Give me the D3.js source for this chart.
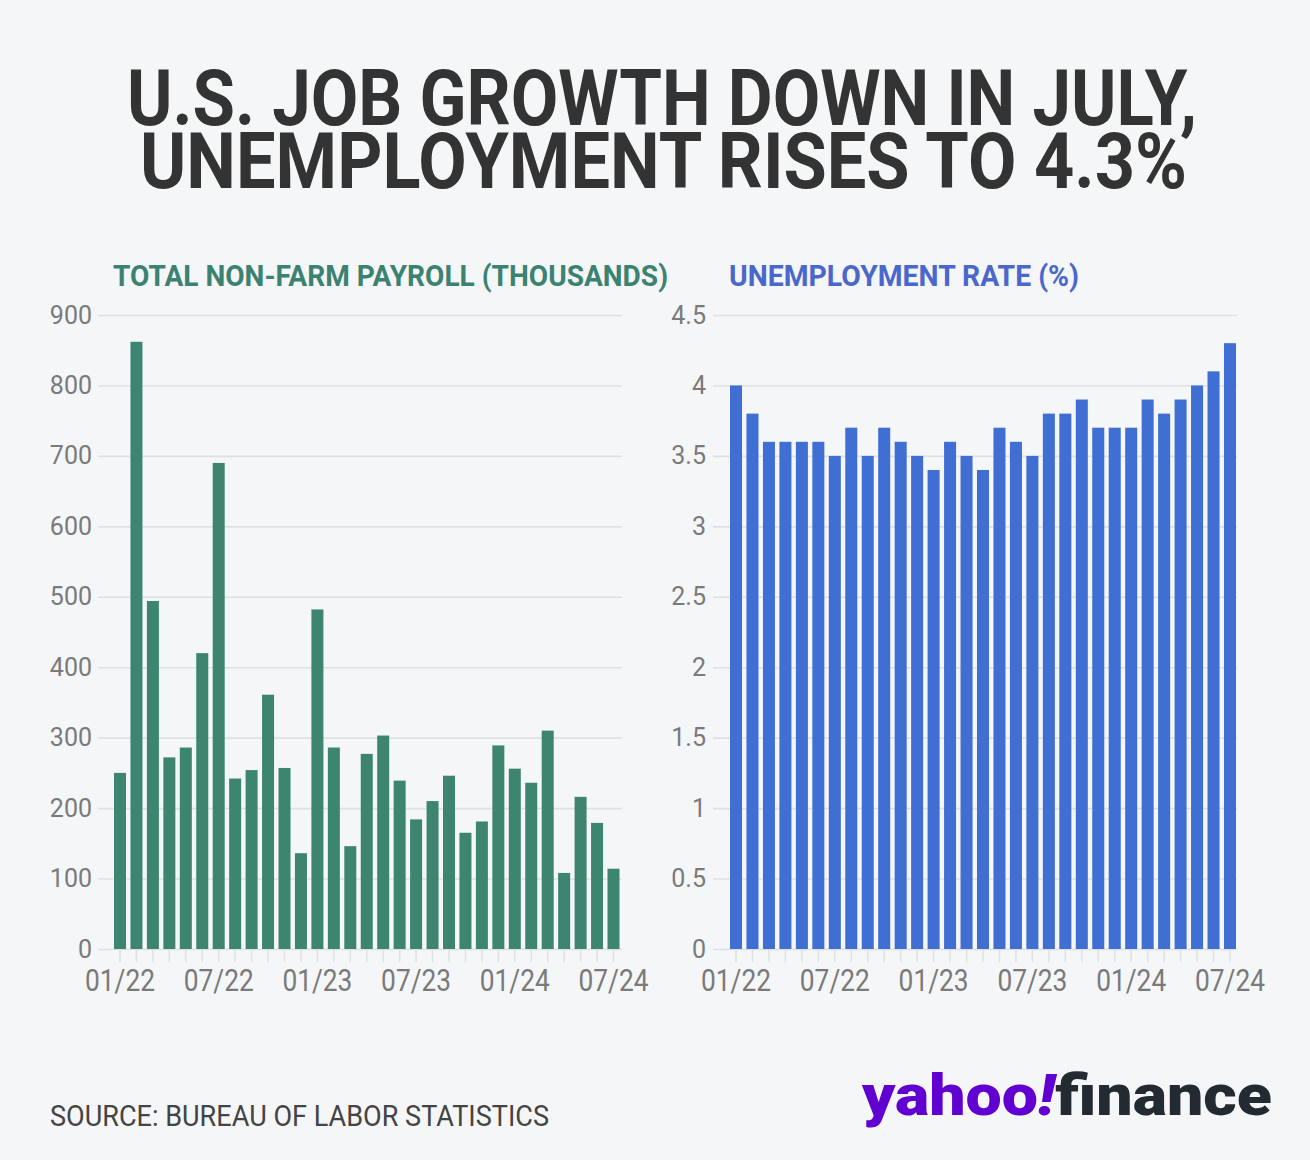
<!DOCTYPE html>
<html>
<head>
<meta charset="utf-8">
<script src="https://cdn.jsdelivr.net/npm/d3@7"></script>
<style>
  html, body { margin: 0; padding: 0; background: #f5f6f8; }
  svg { display: block; }
  text { font-family: Roboto, "Noto Sans", sans-serif; }
</style>
</head>
<body>
<svg id="chart" width="1310" height="1160"></svg>
<script>
// ---------- DATA ----------
const months = ["01/22","02/22","03/22","04/22","05/22","06/22","07/22","08/22","09/22","10/22","11/22","12/22",
                "01/23","02/23","03/23","04/23","05/23","06/23","07/23","08/23","09/23","10/23","11/23","12/23",
                "01/24","02/24","03/24","04/24","05/24","06/24","07/24"];
const payrolls = [250, 862, 494, 272, 286, 420, 690, 242, 254, 361, 257, 136,
                  482, 286, 146, 277, 303, 239, 184, 210, 246, 165, 181, 289,
                  256, 236, 310, 108, 216, 179, 114];
const unemployment = [4.0, 3.8, 3.6, 3.6, 3.6, 3.6, 3.5, 3.7, 3.5, 3.7, 3.6, 3.5,
                      3.4, 3.6, 3.5, 3.4, 3.7, 3.6, 3.5, 3.8, 3.8, 3.9, 3.7, 3.7,
                      3.7, 3.9, 3.8, 3.9, 4.0, 4.1, 4.3];
const payrollTicks = [0, 100, 200, 300, 400, 500, 600, 700, 800, 900];
const rateTicks = [0, 0.5, 1, 1.5, 2, 2.5, 3, 3.5, 4, 4.5];
const xLabels = ["01/22", "07/22", "01/23", "07/23", "01/24", "07/24"];

const titleLines = ["U.S. JOB GROWTH DOWN IN JULY,", "UNEMPLOYMENT RISES TO 4.3%"];
const leftTitle = "TOTAL NON-FARM PAYROLL (THOUSANDS)";
const rightTitle = "UNEMPLOYMENT RATE (%)";
const sourceText = "SOURCE: BUREAU OF LABOR STATISTICS";

// ---------- DRAW ----------
const svg = d3.select("#chart");
svg.append("rect").attr("width", 1310).attr("height", 1160).attr("fill", "#f5f6f8");

// Title: smaller font stretched vertically so the tight leading of the reference fits
const titleSpecs = [
  {x: 127, y: 125, w: 1070},
  {x: 140, y: 188, w: 1047}
];
titleLines.forEach((t, i) => {
  svg.append("g")
    .attr("transform", `translate(${titleSpecs[i].x},${titleSpecs[i].y}) scale(1,1.4)`)
    .append("text")
    .attr("x", 0).attr("y", 0)
    .attr("font-size", 55).attr("font-weight", 700)
    .attr("fill", "#333333")
    .attr("textLength", titleSpecs[i].w).attr("lengthAdjust", "spacingAndGlyphs")
    .text(t);
});

function panel(opts) {
  const g = svg.append("g");
  const x = d3.scaleBand().domain(months).range([opts.barLeft, opts.barRight])
    .paddingInner(0.27).paddingOuter(0);
  const y = d3.scaleLinear().domain(opts.domain).range([949, 315]);

  // subtitle
  g.append("text")
    .attr("x", opts.titleX).attr("y", 286)
    .attr("font-size", 30).attr("font-weight", 700)
    .attr("fill", opts.titleColor)
    .attr("textLength", opts.titleW).attr("lengthAdjust", "spacingAndGlyphs")
    .text(opts.title);

  // y axis + grid
  const yAxis = d3.axisLeft(y).tickValues(opts.ticks)
    .tickFormat(d => String(d))
    .tickSize(-(opts.gridRight - opts.gridLeft)).tickPadding(opts.pad);
  const ya = g.append("g").attr("transform", `translate(${opts.gridLeft},0)`).call(yAxis);
  ya.select(".domain").remove();
  ya.selectAll(".tick line").attr("stroke", "#dfe0e3").attr("stroke-width", 1.6);
  ya.selectAll(".tick text").attr("font-size", 25).attr("fill", "#7a7a7a")
    .attr("font-family", "Roboto, sans-serif");

  // x axis
  const xAxis = d3.axisBottom(x).tickSize(13).tickPadding(7)
    .tickFormat(d => xLabels.includes(d) ? d : "");
  const xa = g.append("g").attr("transform", "translate(0,949)").call(xAxis);
  xa.select(".domain").remove();
  xa.selectAll(".tick line").attr("stroke", "#e0e1e4").attr("stroke-width", 1.5);
  xa.selectAll(".tick text").attr("font-size", 31).attr("fill", "#7a7a7a")
    .attr("font-family", "Roboto, sans-serif")
    .each(function(d) {
      if (xLabels.includes(d)) {
        d3.select(this).attr("textLength", 70).attr("lengthAdjust", "spacingAndGlyphs");
      }
    });

  // bars
  g.append("g").selectAll("rect").data(opts.values).join("rect")
    .attr("x", (d, i) => x(months[i]))
    .attr("width", x.bandwidth())
    .attr("y", d => y(d))
    .attr("height", d => y(0) - y(d))
    .attr("fill", opts.color);
}

panel({
  values: payrolls, domain: [0, 900], ticks: payrollTicks,
  barLeft: 114, barRight: 619.5, gridLeft: 98, gridRight: 622, pad: 6,
  color: "#3e8571", title: leftTitle, titleColor: "#3b8370", titleX: 113, titleW: 555
});
panel({
  values: unemployment, domain: [0, 4.5], ticks: rateTicks,
  barLeft: 730, barRight: 1236, gridLeft: 713, gridRight: 1237, pad: 7,
  color: "#3f6fd3", title: rightTitle, titleColor: "#4a68cc", titleX: 729, titleW: 350
});

// Source
svg.append("text")
  .attr("x", 50).attr("y", 1126)
  .attr("font-size", 29).attr("fill", "#444444")
  .attr("textLength", 499).attr("lengthAdjust", "spacingAndGlyphs")
  .text(sourceText);

// Logo
const logo = svg.append("text")
  .attr("x", 862).attr("y", 1115)
  .attr("font-size", 58).attr("font-weight", 900)
  .attr("textLength", 410).attr("lengthAdjust", "spacingAndGlyphs");
logo.append("tspan").attr("fill", "#6001d2").text("yahoo");
logo.append("tspan").attr("fill", "#6001d2").attr("font-style", "italic").text("!");
logo.append("tspan").attr("fill", "#232a31").text("finance");
</script>
</body>
</html>
